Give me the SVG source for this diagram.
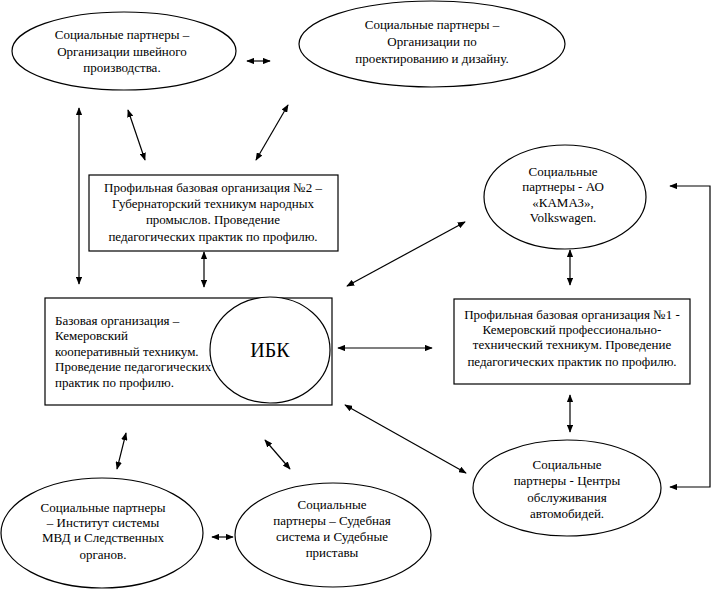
<svg xmlns="http://www.w3.org/2000/svg" width="713" height="591" viewBox="0 0 713 591">
<style>
.s{fill:#fff;stroke:#000;stroke-width:1.2}
.t{font-family:"Liberation Serif","Times New Roman",serif;font-size:13px;fill:#000;text-anchor:middle}
.l{text-anchor:start}
.c{fill:none;stroke:#000;stroke-width:1.2;marker-start:url(#a);marker-end:url(#a)}
</style>
<defs>
<marker id="a" viewBox="0 0 10 8" refX="9" refY="4" markerWidth="8" markerHeight="6.4" markerUnits="userSpaceOnUse" orient="auto-start-reverse">
<path d="M0,0L10,4L0,8z" fill="#000"/>
</marker>
</defs>
<g id="connectors">
<line class="c" x1="247" y1="61" x2="270" y2="61"/>
<line class="c" x1="79" y1="108" x2="79" y2="284"/>
<line class="c" x1="128" y1="110" x2="145" y2="160"/>
<line class="c" x1="288" y1="105" x2="256" y2="160"/>
<line class="c" x1="204" y1="252" x2="204" y2="287"/>
<line class="c" x1="347" y1="286" x2="465" y2="222"/>
<line class="c" x1="570" y1="250" x2="570" y2="285"/>
<polyline class="c" points="670,186 710,186 710,487 670,487"/>
<line class="c" x1="338" y1="348" x2="432" y2="348"/>
<line class="c" x1="570" y1="395" x2="570" y2="432"/>
<line class="c" x1="345" y1="405" x2="466" y2="473"/>
<line class="c" x1="126" y1="433" x2="117" y2="469"/>
<line class="c" x1="265" y1="440" x2="290" y2="469"/>
<line class="c" x1="212" y1="537" x2="233" y2="537"/>
</g>
<g id="sewing">
<ellipse class="s" cx="124" cy="51" rx="112" ry="39"/>
<text class="t" x="122" y="39">Социальные  партнеры –</text>
<text class="t" x="122" y="56">Организации швейного</text>
<text class="t" x="122" y="72">производства.</text>
</g>
<g id="design">
<ellipse class="s" cx="432" cy="44" rx="133" ry="43"/>
<text class="t" x="432" y="29">Социальные  партнеры –</text>
<text class="t" x="432" y="46">Организации  по</text>
<text class="t" x="432" y="63">проектированию и дизайну.</text>
</g>
<g id="org2">
<rect class="s" x="89" y="175" width="249" height="76"/>
<text class="t" x="213" y="192">Профильная базовая организация №2  –</text>
<text class="t" x="213" y="208">Губернаторский техникум  народных</text>
<text class="t" x="213" y="224">промыслов. Проведение</text>
<text class="t" x="213" y="241">педагогических  практик по профилю.</text>
</g>
<g id="kamaz">
<ellipse class="s" cx="565" cy="197" rx="81" ry="52"/>
<text class="t" x="563" y="176">Социальные</text>
<text class="t" x="563" y="191">партнеры - АО</text>
<text class="t" x="563" y="207">«КАМАЗ»,</text>
<text class="t" x="563" y="222">Volkswagen.</text>
</g>
<g id="base">
<rect class="s" x="45" y="298" width="287" height="107"/>
<text class="t l" x="55" y="325">Базовая организация –</text>
<text class="t l" x="55" y="340">Кемеровский</text>
<text class="t l" x="55" y="356">кооперативный техникум.</text>
<text class="t l" x="55" y="371">Проведение педагогических</text>
<text class="t l" x="55" y="387">практик по профилю.</text>
</g>
<g id="ibk">
<ellipse class="s" cx="270" cy="350" rx="60" ry="53"/>
<text class="t" x="270" y="357" style="font-size:20px">ИБК</text>
</g>
<g id="org1">
<rect class="s" x="454" y="299" width="236" height="85"/>
<text class="t" x="572" y="319">Профильная базовая организация №1  -</text>
<text class="t" x="572" y="334">Кемеровский профессионально-</text>
<text class="t" x="572" y="349">технический  техникум. Проведение</text>
<text class="t" x="572" y="366">педагогических  практик по профилю.</text>
</g>
<g id="service">
<ellipse class="s" cx="567" cy="488" rx="94" ry="48"/>
<text class="t" x="567" y="469">Социальные</text>
<text class="t" x="567" y="485">партнеры - Центры</text>
<text class="t" x="567" y="502">обслуживания</text>
<text class="t" x="567" y="518">автомобидей.</text>
</g>
<g id="mvd">
<ellipse class="s" cx="102" cy="533" rx="101" ry="55"/>
<text class="t" x="103" y="512">Социальные  партнеры</text>
<text class="t" x="103" y="527">– Институт  системы</text>
<text class="t" x="103" y="542">МВД   и Следственных</text>
<text class="t" x="103" y="559">органов.</text>
</g>
<g id="court">
<ellipse class="s" cx="333" cy="535" rx="98" ry="52"/>
<text class="t" x="332" y="509">Социальные</text>
<text class="t" x="332" y="525">партнеры – Судебная</text>
<text class="t" x="332" y="541">система и Судебные</text>
<text class="t" x="332" y="557">приставы</text>
</g>
</svg>
